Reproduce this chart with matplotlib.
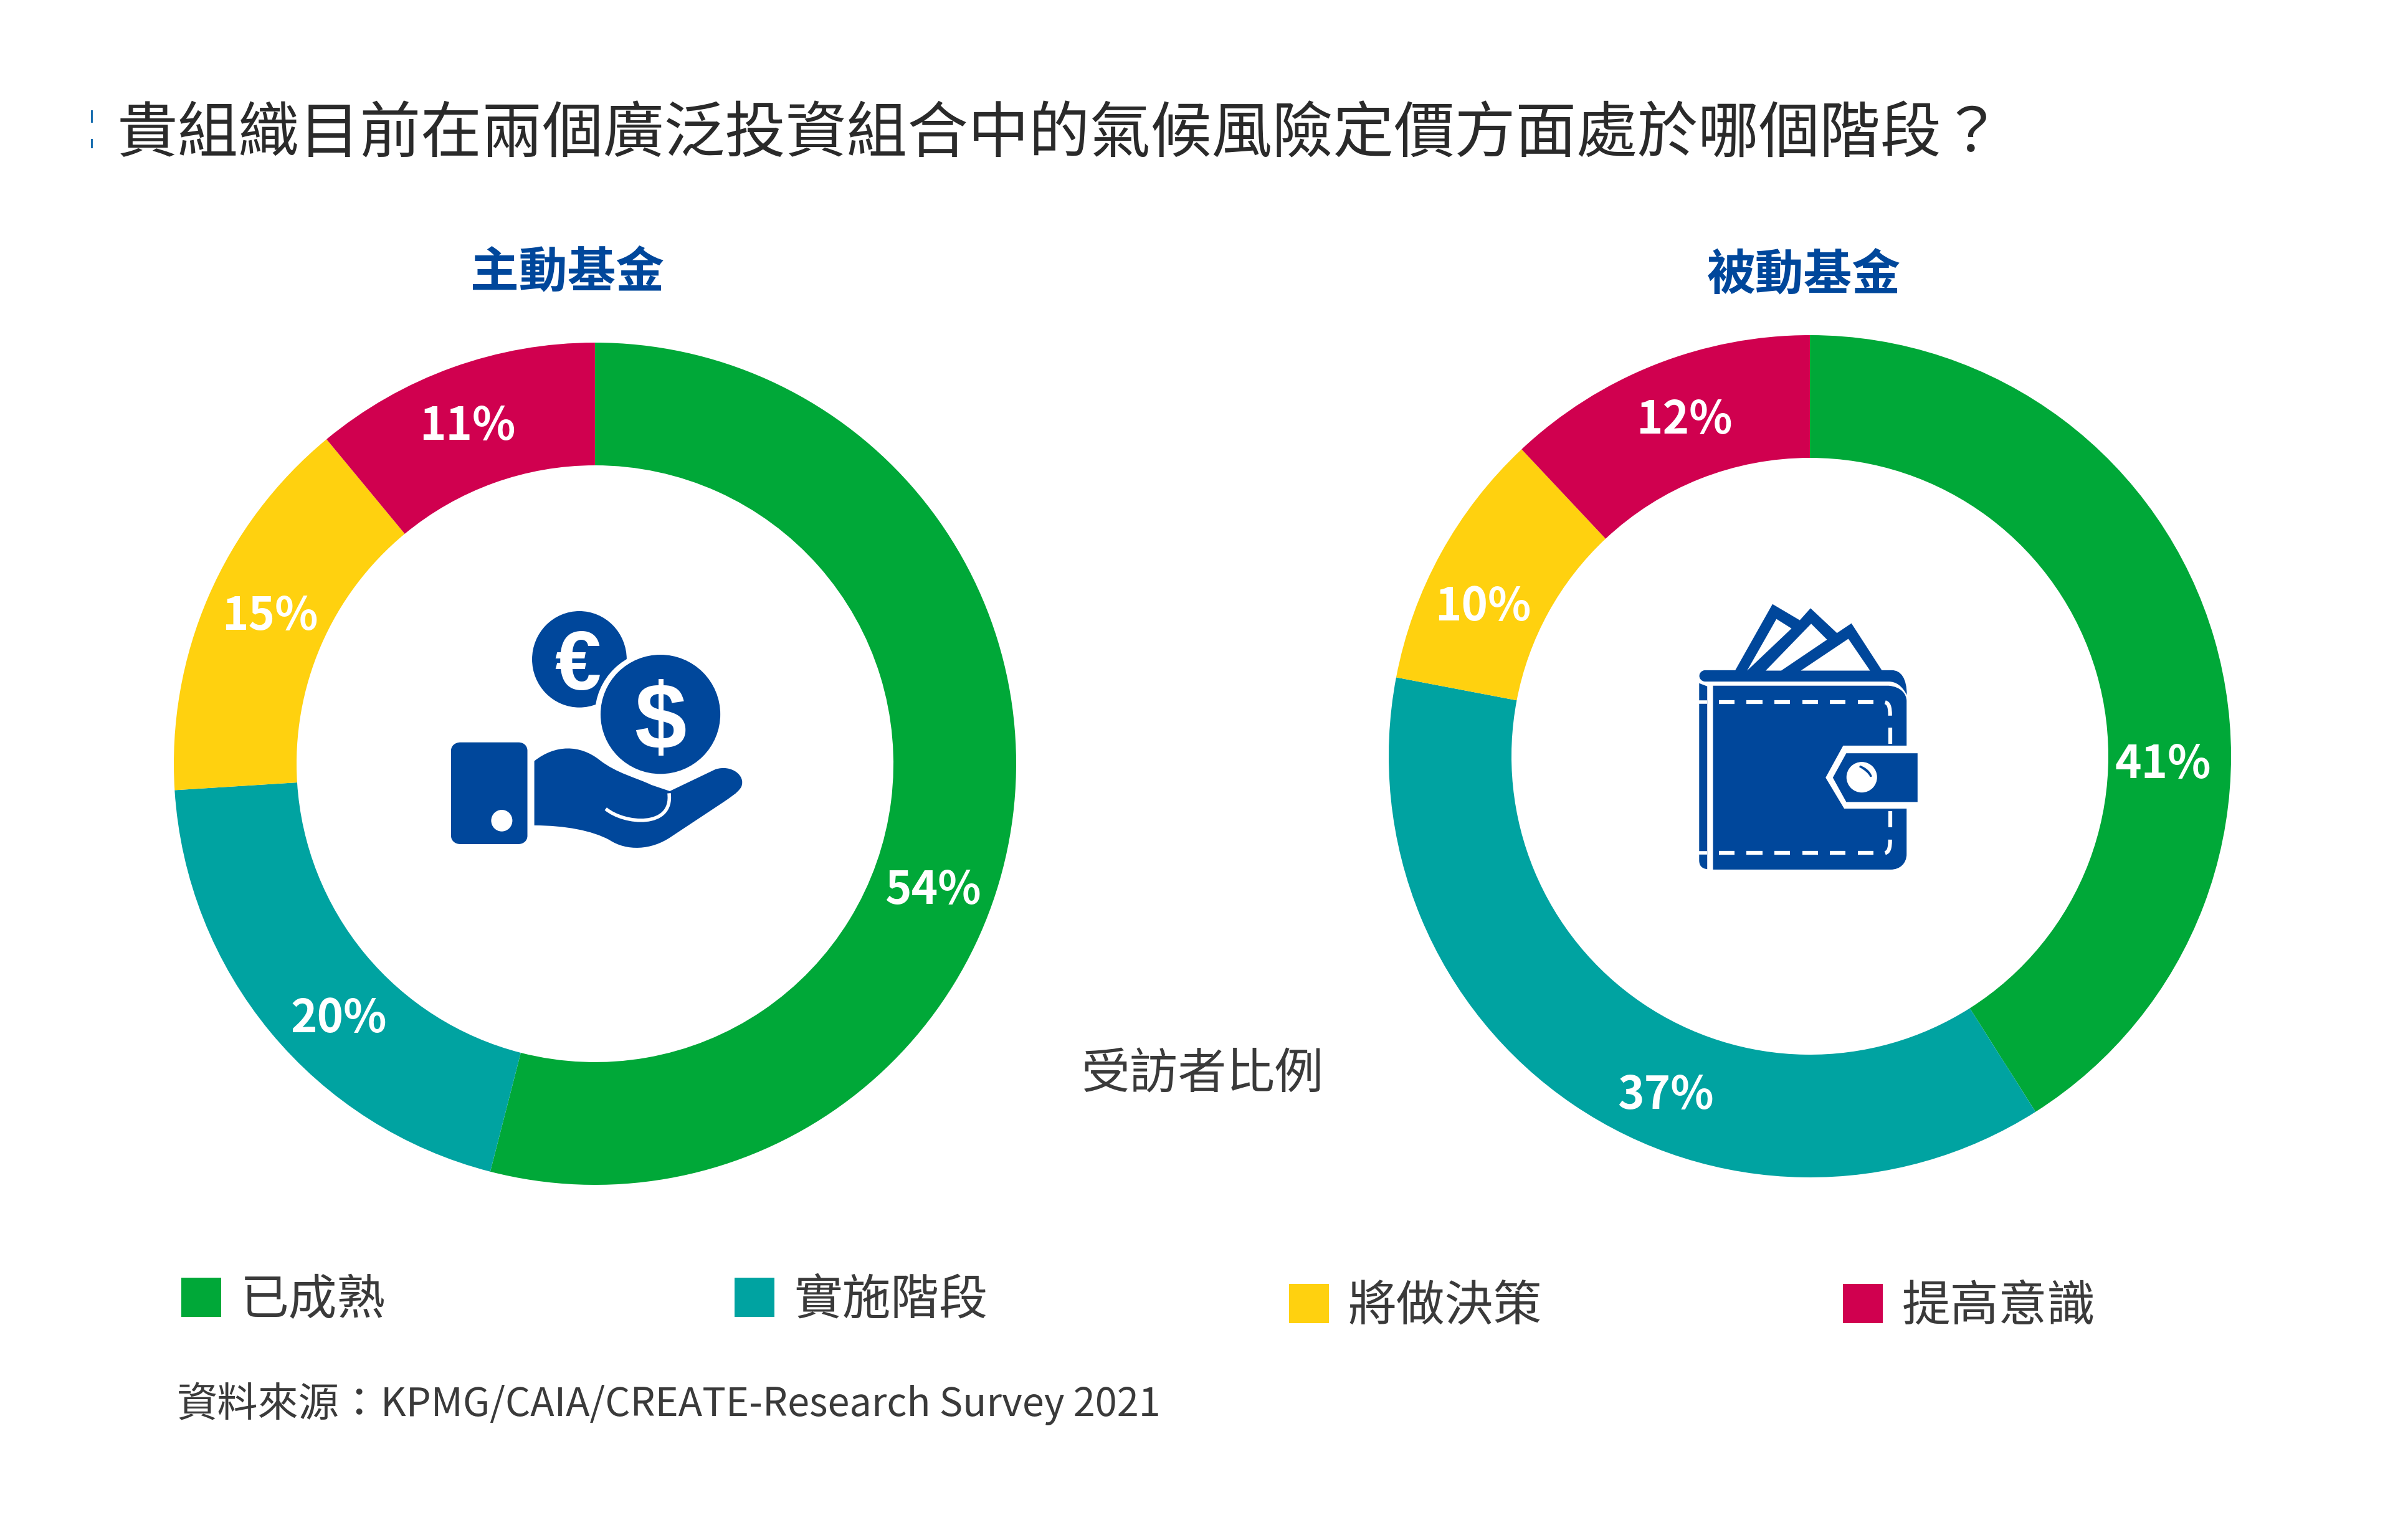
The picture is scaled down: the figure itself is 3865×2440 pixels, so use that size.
import matplotlib
matplotlib.use("Agg")
import matplotlib.pyplot as plt
from matplotlib.path import Path
from matplotlib.patches import PathPatch, Ellipse, Rectangle

plt.rcParams['font.family'] = ['Noto Sans CJK TC', 'DejaVu Sans']

W, H = 3866, 2440
title = "貴組織目前在兩個廣泛投資組合中的氣候風險定價方面處於哪個階段？"
categories = ["已成熟", "實施階段", "將做決策", "提高意識"]
active_name = "主動基金"
passive_name = "被動基金"
active_values = [54, 20, 15, 11]
passive_values = [41, 37, 10, 12]
colors = ["#00A838", "#00A3A1", "#FFD10F", "#D0004F"]
center_label = "受訪者比例"
source_head = "資料來源："
source_tail = "KPMG/CAIA/CREATE-Research Survey 2021"
BLUE = "#00479B"
TXT = "#3A3A3A"

fig = plt.figure(figsize=(W / 100, H / 100), dpi=100, facecolor="white")
ROUT, RIN = 676, 479


def donut(values, cx, cy):
    ax = fig.add_axes([(cx - ROUT) / W, 1 - (cy + ROUT) / H, 2 * ROUT / W, 2 * ROUT / H])
    ax.pie(values, colors=colors, startangle=90, counterclock=False, radius=1,
           wedgeprops=dict(width=1 - RIN / ROUT, linewidth=0))
    ax.set_xlim(-1, 1)
    ax.set_ylim(-1, 1)
    ax.set_axis_off()


donut(active_values, 955, 1226)
donut(passive_values, 2905, 1214)

ov = fig.add_axes([0, 0, 1, 1], zorder=5)
ov.set_xlim(0, W)
ov.set_ylim(H, 0)
ov.set_axis_off()
ov.patch.set_alpha(0)


def T(x, y, s, size, color=TXT, weight="normal", ha="left", **kw):
    ov.text(x, y, s, fontsize=size, color=color, fontweight=weight, ha=ha, va="center", **kw)


T(188, 216, title, 70.3, color="#2A2A2A", weight="light")
ov.add_patch(Rectangle((146, 177), 3, 20, color="#1A6FB0", lw=0))
ov.add_patch(Rectangle((146, 223), 3, 15, color="#1A6FB0", lw=0))
T(911, 439, active_name, 56, color=BLUE, weight="bold", ha="center")
T(2895, 443, passive_name, 56, color=BLUE, weight="bold", ha="center")
T(1930, 1726, center_label, 56, ha="center")
T(284, 2255, source_head, 47)
T(611, 2255, source_tail, 45.4)

# value labels
active_pos = [(1497, 1430), (544, 1636), (433, 990), (750, 685)]
passive_pos = [(3472, 1228), (2673, 1759), (2380, 975), (2703, 675)]
for vals, pos in ((active_values, active_pos), (passive_values, passive_pos)):
    for v, (x, y) in zip(vals, pos):
        T(x, y, f"{v}%", 52, color="white", weight="bold", ha="center")

# legend
leg_x = [291, 1179, 2069, 2958]
leg_y = [2083, 2083, 2093, 2093]
for lab, c, x, y in zip(categories, colors, leg_x, leg_y):
    ov.add_patch(Rectangle((x, y - 32), 64, 63, color=c, lw=0))
    T(x + 95, y + 5, lab, 56)


# ---------- icons (decorative) ----------
def mapper(x0, y0, sx, sy):
    return lambda p: (x0 + p[0] / sx, y0 + p[1] / sy)


def add_path(cmds, m, fc=BLUE, ec="none", lw=0, z=6, **kw):
    verts, codes = [], []
    for c in cmds:
        kind, pts = c[0], c[1:]
        if kind == "M":
            verts.append(m(pts[0])); codes.append(Path.MOVETO)
        elif kind == "L":
            verts.append(m(pts[0])); codes.append(Path.LINETO)
        elif kind == "C":
            for p in pts:
                verts.append(m(p)); codes.append(Path.CURVE4)
        elif kind == "Z":
            verts.append(verts[0]); codes.append(Path.CLOSEPOLY)
    ov.add_patch(PathPatch(Path(verts, codes), fc=fc, ec=ec, lw=lw, zorder=z, **kw))


def ell(m, sx, sy, c, rx, ry, fc, z):
    ov.add_patch(Ellipse(m(c), 2 * rx / sx, 2 * ry / sy, fc=fc, ec="none", zorder=z))


# hand icon
shx, shy = 1568 / 620, 3.0
mh = mapper(650, 920, shx, shy)
add_path([("M", (225, 815)), ("L", (460, 815)), ("C", (485, 815), (497, 835), (497, 855)),
          ("L", (497, 1265)), ("C", (497, 1290), (480, 1305), (460, 1305)),
          ("L", (225, 1305)), ("C", (200, 1305), (187, 1285), (187, 1265)),
          ("L", (187, 855)), ("C", (187, 830), (205, 815), (225, 815)), ("Z",)], mh)
ell(mh, shx, shy, (393, 1192), 43, 52, "white", 7)
add_path([("M", (525, 905)), ("C", (610, 825), (710, 825), (790, 900)),
          ("C", (860, 965), (940, 985), (1000, 1020)), ("L", (1075, 1050)),
          ("L", (1260, 945)), ("C", (1325, 920), (1385, 975), (1365, 1030)),
          ("C", (1350, 1060), (1320, 1080), (1290, 1105)), ("L", (1080, 1270)),
          ("C", (1000, 1335), (900, 1340), (830, 1285)),
          ("C", (760, 1240), (650, 1215), (525, 1215)), ("Z",)], mh)
add_path([("M", (815, 1135)), ("C", (890, 1210), (1090, 1230), (1072, 1060))], mh,
         fc="none", ec="white", lw=4, z=7)
ell(mh, shx, shy, (708, 415), 192, 232, BLUE, 6)
ell(mh, shx, shy, (1037, 680), 266, 310, "white", 7)
ell(mh, shx, shy, (1037, 680), 243, 287, BLUE, 8)
x, y = mh((702, 415))
ov.text(x, y, "€", fontsize=96, color="white", fontweight="bold", ha="center", va="center_baseline",
        zorder=6.5, family=["Liberation Sans", "DejaVu Sans"])
x, y = mh((1037, 683))
ov.text(x, y, "$", fontsize=108, color="white", fontweight="bold", ha="center", va="center_baseline",
        zorder=9, family=["Liberation Sans", "DejaVu Sans"])

# wallet icon
sw = 1568 / 520
mw = mapper(2650, 920, sw, sw)
add_path([("M", (405, 475)), ("L", (588, 150)), ("L", (720, 228)), ("L", (772, 170)), ("L", (900, 290)),
          ("L", (970, 243)), ("L", (1120, 475)), ("Z",)], mw)
for tri in ([(465, 472), (607, 222), (680, 268)],
            [(555, 472), (775, 245), (852, 322), (630, 472)],
            [(725, 472), (955, 318), (1060, 472)]):
    add_path([("M", tri[0])] + [("L", p) for p in tri[1:]] + [("Z",)], mw, fc="white", z=7)
add_path([("M", (260, 470)), ("L", (1165, 470)), ("C", (1210, 470), (1238, 510), (1238, 590)),
          ("C", (1215, 545), (1185, 525), (1150, 525)), ("L", (260, 525)),
          ("C", (225, 520), (225, 475), (260, 470)), ("Z",)], mw)
add_path([("M", (300, 545)), ("L", (1150, 545)), ("C", (1210, 550), (1237, 585), (1237, 620)),
          ("L", (1237, 835)), ("L", (930, 835)), ("L", (845, 990)), ("L", (935, 1140)),
          ("L", (1237, 1140)), ("L", (1237, 1360)), ("C", (1237, 1405), (1205, 1435), (1160, 1435)),
          ("L", (300, 1435)), ("Z",)], mw)
add_path([("M", (233, 533)), ("L", (272, 548)), ("L", (272, 1433)),
          ("C", (245, 1430), (233, 1415), (233, 1390)), ("Z",)], mw)
add_path([("M", (945, 872)), ("L", (1290, 872)), ("L", (1290, 1108)), ("L", (945, 1108)),
          ("L", (880, 990)), ("Z",)], mw)
ell(mw, sw, sw, (1020, 988), 74, 74, "white", 7)
add_path([("M", (1010, 935)), ("C", (1040, 945), (1060, 965), (1065, 985)),
          ("C", (1055, 965), (1035, 950), (1010, 935)), ("Z",)], mw, fc=BLUE, ec=BLUE, lw=2, z=8)
for yy in (625, 1355):
    for k in range(6):
        x0 = 328 + k * 134.5
        add_path([("M", (x0, yy)), ("L", (x0 + 76, yy))], mw, fc="none", ec="white", lw=4.5, z=8)
    add_path([("M", (233, yy)), ("L", (272, yy))], mw, fc="none", ec="white", lw=4, z=8)
add_path([("M", (1133, 625)), ("C", (1150, 630), (1157, 645), (1157, 690))], mw, fc="none", ec="white", lw=4.5, z=8)
add_path([("M", (1133, 1355)), ("C", (1150, 1350), (1157, 1335), (1157, 1290))], mw, fc="none", ec="white", lw=4.5, z=8)
add_path([("M", (1157, 748)), ("L", (1157, 825))], mw, fc="none", ec="white", lw=4.5, z=8)
add_path([("M", (1157, 1152)), ("L", (1157, 1230))], mw, fc="none", ec="white", lw=4.5, z=8)

fig.savefig("out.png", dpi=100, facecolor="white")
